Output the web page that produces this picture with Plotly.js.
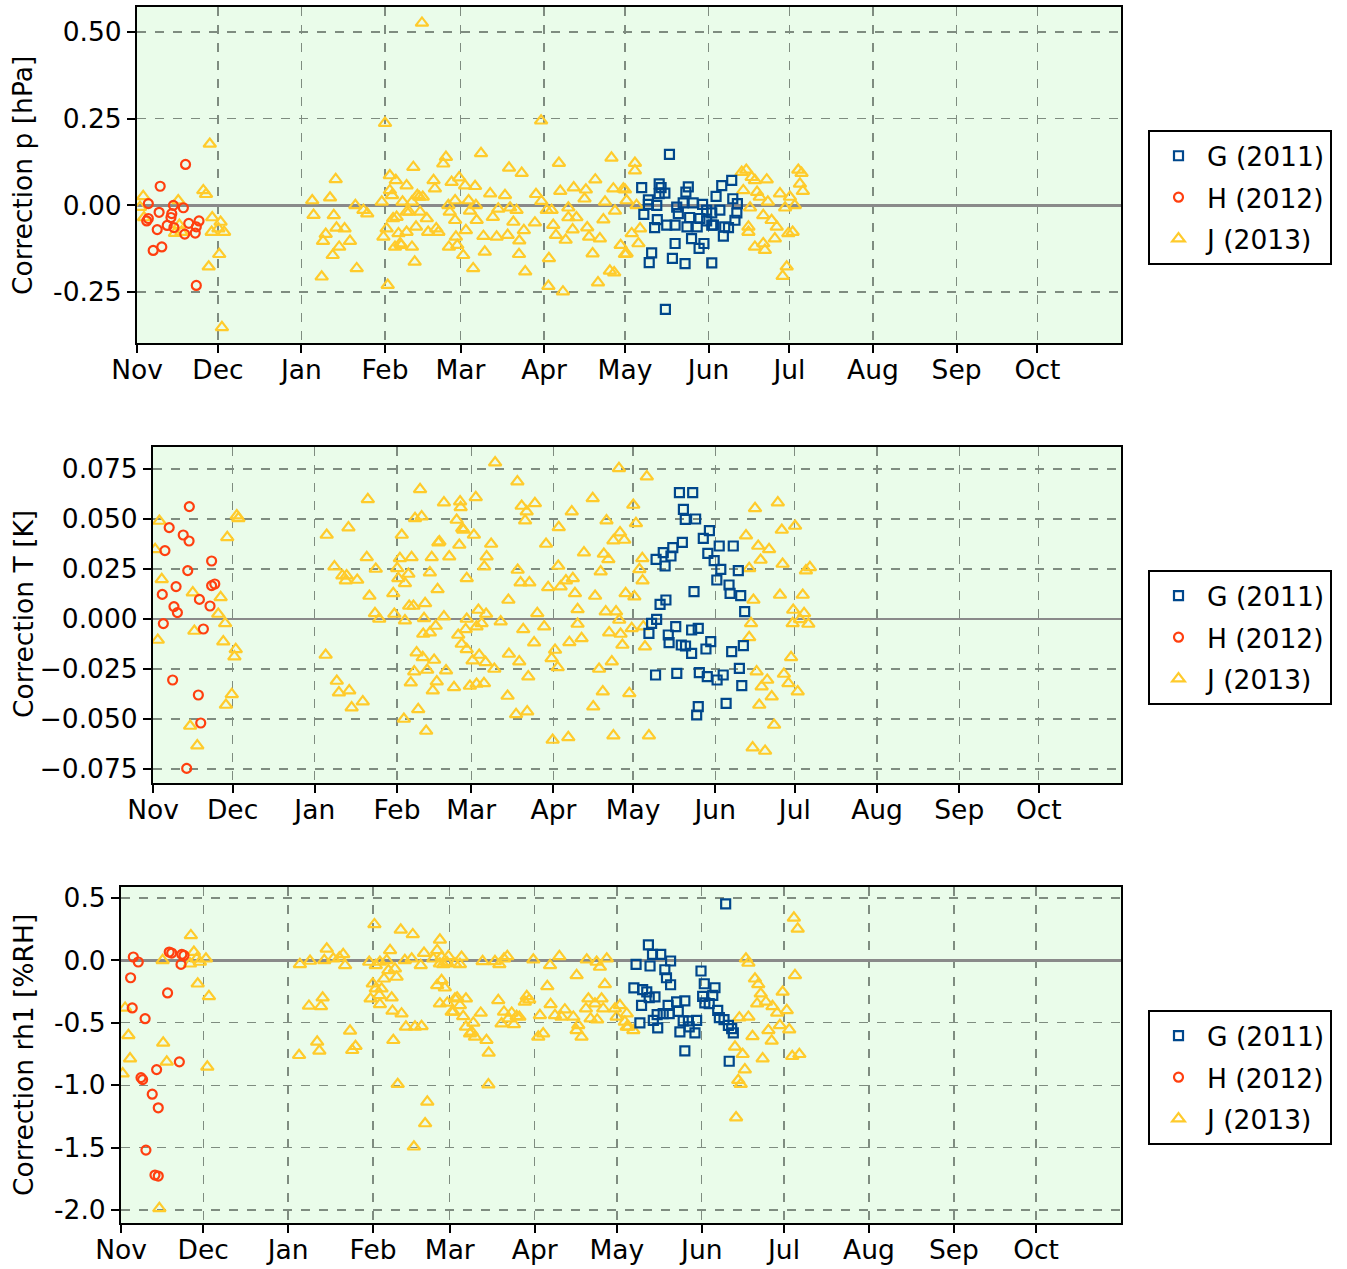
<!DOCTYPE html>
<html>
<head>
<meta charset="utf-8">
<script src="https://cdn.plot.ly/plotly-3.0.1.min.js"></script>
<style>html,body{margin:0;padding:0;background:#fff;}</style>
</head>
<body>
<div id="chart" style="width:1347px;height:1269px;"></div>
<script>
// x values: days since 1 November; y values: correction
const monthTickDays = [0,30,61,92,120,151,181,212,242,273,304,334];
const monthTickText = ['Nov','Dec','Jan','Feb','Mar','Apr','May','Jun','Jul','Aug','Sep','Oct'];

const seriesNames = ['G (2011)','H (2012)','J (2013)'];

// ---- Pressure correction [hPa]
const pressureG = [[197.5,0.147],[187.2,0.051],[193.7,0.062],[194.4,0.051],[195.8,0.035],[193.7,0.034],[189.7,0.016],[189.7,0.003],[192.8,0],[188,-0.026],[193,-0.041],[192,-0.064],[196.5,-0.057],[199.6,-0.057],[200.2,-0.005],[200.8,-0.024],[203.6,0.038],[204.5,0.053],[202.6,0.007],[206.3,0.007],[209.8,0.003],[205,-0.035],[208.8,-0.038],[204,-0.062],[207.8,-0.062],[205.7,-0.096],[210.3,-0.11],[208.5,-0.124],[199.6,-0.11],[190.9,-0.137],[190,-0.165],[198.6,-0.153],[203.3,-0.168],[213.2,-0.166],[196,-0.3],[211.3,-0.014],[213.2,-0.022],[214.8,0.026],[216.9,0.057],[220.6,0.072],[216.2,-0.014],[213.2,-0.057],[217.5,-0.089],[218,-0.062],[221,0.019],[222.7,0.005],[222.5,-0.022],[221.8,-0.043],[219.4,-0.064],[211.3,-0.045],[213.8,-0.057]];
const pressureH = [[18,0.118],[8.6,0.055],[4.2,0.005],[8.2,-0.02],[13.5,0],[17.2,-0.007],[12.9,-0.024],[12.6,-0.035],[4.2,-0.038],[3.6,-0.045],[11.2,-0.058],[13.7,-0.064],[19.2,-0.052],[23,-0.045],[22,-0.062],[7.5,-0.07],[17.7,-0.083],[21.6,-0.08],[9.2,-0.12],[6,-0.13],[22,-0.231]];
const pressureJ = [[2.3,0.026],[1.1,-0.005],[2.6,-0.035],[15.3,0.014],[15.7,-0.057],[14.1,-0.08],[16.5,-0.077],[27,0.177],[24.6,0.043],[25.6,0.032],[27.9,-0.035],[31,-0.048],[27.7,-0.077],[30.2,-0.067],[32.3,-0.077],[30.5,-0.141],[26.6,-0.177],[31.5,-0.352],
[65,0.014],[71.6,0.022],[73.7,0.075],[65.5,-0.028],[73,-0.029],[74,-0.065],[77,-0.067],[70,-0.083],[69,-0.103],[75,-0.12],[72.6,-0.144],[79,-0.103],[81,0],[84,-0.014],[85.4,-0.024],[81.5,-0.182],[68.5,-0.206],
[92,0.237],[102.5,0.11],[93.8,0.086],[96,0.072],[100,0.057],[93.8,0.043],[94.6,0.029],[90.8,0.01],[98.5,0.01],[102,0.01],[104.7,0.024],[106,0.024],[100,-0.019],[95,-0.038],[96.3,-0.034],[92.6,-0.067],[97,-0.081],[103.5,-0.062],[100,-0.077],[91.4,-0.091],[97.6,-0.11],[95.7,-0.12],[102,-0.12],[103,-0.163],[93,-0.23],[104,0.029],[101,-0.019],[105,-0.019],[107.5,-0.038],[98,-0.115],[105.7,0.526],
[114.6,0.139],[113.6,0.12],[127.6,0.15],[110,0.072],[110.5,0.048],[116.7,0.067],[119.5,0.08],[121.7,0.057],[125.4,0.055],[131,0.034],[136.5,0.029],[138,0.108],[142.7,0.093],[148,0.032],[150,0.012],[156.5,0.122],[157,0.041],[162,0.051],[166.5,0.045],[170,0.074],[176,0.137],[176.7,0.048],[181,0.045],[166,0.019],[173.6,0.01],[115.5,0],[118,0.014],[123,0.014],[125.7,0],[116,-0.019],[123.5,-0.016],[134,-0.01],[138.4,-0.007],[140.8,-0.014],[132,-0.034],[139.6,-0.048],[147.6,-0.05],[152,-0.014],[153.8,-0.014],[160,-0.007],[160,-0.035],[163,-0.035],[173,-0.041],[177.3,-0.016],[126,-0.043],[118,-0.043],[122,-0.072],[128.5,-0.089],[133.4,-0.091],[137.5,-0.086],[143.5,-0.072],[141.8,-0.102],[154.4,-0.057],[155.4,-0.086],[159,-0.1],[161.6,-0.07],[167,-0.064],[167.7,-0.091],[171.7,-0.096],[118.3,-0.091],[115.7,-0.12],[118.8,-0.115],[121,-0.144],[129,-0.134],[124.7,-0.182],[141.7,-0.141],[144,-0.191],[152.8,-0.153],[169,-0.139],[152.6,-0.233],[158,-0.249],[171,-0.223],[175.4,-0.189],[177,-0.194],[179.4,-0.115],[181,-0.141],[111,-0.067],[111.8,-0.077],[108,-0.077],[149.9,0.244],
[184.7,0.122],[184.7,0.1],[180.4,0.048],[181.6,0.014],[185.3,0],[183.5,-0.081],[186.6,-0.067],[186,-0.11],[181.6,-0.139],
[224.3,0.096],[226,0.102],[228,0.081],[229.2,0.072],[233.6,0.074],[224.9,0.043],[230,0.038],[231,0.024],[234,0.01],[238.5,0.034],[245.3,0.102],[246.5,0.093],[245.9,0.062],[247,0.041],[242.2,0.024],[244,0],[240.4,-0.007],[227.4,-0.007],[232.3,-0.029],[235.4,-0.043],[237.3,-0.062],[236.6,-0.096],[226.8,-0.062],[226.8,-0.077],[229.2,-0.12],[232.3,-0.11],[232.9,-0.129],[241.6,-0.081],[243.2,-0.077],[241,-0.177],[239.5,-0.204]];

// ---- Temperature correction [K]
const tempG = [[198.5,0.0632],[203.5,0.0632],[200,0.0548],[200.7,0.0498],[204.6,0.05],[209.8,0.0442],[207.5,0.0403],[213.5,0.0365],[218.8,0.0365],[199.6,0.0383],[196,0.0357],[192.4,0.0332],[195.3,0.0315],[189.7,0.0298],[193.1,0.0265],[209.2,0.0328],[211.6,0.0292],[214.1,0.0248],[220.7,0.0242],[212.6,0.0195],[217.2,0.017],[217.6,0.0128],[221.6,0.0117],[204,0.0137],[193.4,0.0095],[191.2,0.0073],[223.1,0.0037],[189.9,-0.0002],[188,-0.0022],[187,-0.0072],[197.1,-0.0038],[203.1,-0.0055],[205.6,-0.0047],[194.3,-0.008],[194.6,-0.0118],[199.2,-0.013],[200.8,-0.0135],[203.1,-0.0172],[208.5,-0.015],[210.3,-0.0113],[218.2,-0.0163],[222.6,-0.0133],[221.1,-0.0247],[189.5,-0.028],[197.5,-0.0272],[206,-0.0268],[209,-0.0288],[212.7,-0.0305],[215,-0.028],[222,-0.0333],[216.1,-0.0422],[205.6,-0.0438],[205,-0.048]];
const tempH = [[13.7,0.0562],[6.1,0.0457],[11.4,0.042],[13.6,0.039],[4.5,0.0342],[22.1,0.029],[13.1,0.0242],[8.7,0.0162],[22.1,0.0167],[23.3,0.0175],[3.5,0.0123],[17.5,0.0098],[7.9,0.0062],[21.5,0.0065],[9.2,0.0032],[3.9,-0.0023],[19,-0.005],[7.4,-0.0305],[17.1,-0.038],[18,-0.052],[12.7,-0.0747]];
const tempJ = [[2.4,0.049],[0.8,0.0348],[3.3,0.0198],[15,0.0132],[25.5,0.0108],[24.6,0.0025],[27.2,-0.0022],[15.6,-0.006],[1.8,-0.0105],[26.5,-0.0113],[31.2,-0.0152],[30.7,-0.0188],[28,0.0408],[31.6,0.0517],[32.2,0.0503],[29.7,-0.0377],[27.5,-0.043],[14,-0.0535],[16.7,-0.0633],
[65.5,0.042],[73.7,0.0457],[81,0.0598],[68.4,0.0262],[71.4,0.0217],[73,0.0217],[72.7,0.0192],[77,0.0195],[80.6,0.0308],[84,0.025],[81.6,0.0115],[83.7,0.0028],[85.3,0],[65.1,-0.018],[69.3,-0.031],[70.1,-0.0368],[74,-0.0358],[79.1,-0.0413],[74.9,-0.0443],[90.6,0.0128],[91,0.0025],[93.8,0.042],[93.1,0.0303],[92.1,0.0253],[96.3,0.0225],[92.5,0.0203],[95,0.0178],[97.5,0.0308],[100.7,0.0648],[98.8,0.0503],[101.3,0.0512],[105.1,0.0308],[104.4,0.0232],[107.6,0.0382],[107.3,0.0148],[96.6,0.0065],[98.2,0.0065],[102.6,0.0078],[95,-0.0008],[102.2,0.0003],[106.6,-0.0035],[101.9,-0.0075],[104.4,-0.0068],[99.4,-0.0168],[101.7,-0.0192],[106,-0.0205],[98.5,-0.0263],[103.4,-0.0255],[97.2,-0.0318],[107,-0.0313],[105.5,-0.0358],[100,-0.0452],[94.6,-0.05],[103,-0.056],
[129,0.0782],[137.4,0.0687],[109.7,0.0582],[115.8,0.0587],[116,0.0558],[121.7,0.0608],[114.5,0.0495],[116.6,0.0453],[117,0.0445],[121,0.042],[108,0.0387],[115.5,0.037],[127.5,0.0375],[125.8,0.0312],[124.9,0.0262],[111.7,0.0312],[118.3,0.0203],[134,0.0095],[139,0.0565],[140.9,0.0537],[140.3,0.0492],[144,0.0578],[137.5,0.0245],[138.6,0.0182],[141.9,0.0182],[149,0.0158],[148.2,0.0375],[152.8,0.0265],[153,0.0458],[157.9,0.0537],[153.7,0.0162],[155.7,0.0192],[158.3,0.0203],[159.1,0.0128],[160.1,0.0048],[162.5,0.0332],[165.8,0.0603],[166.7,0.0115],[170.7,0.0037],[174.6,0.0037],[175.8,-0.0005],[171,0.0492],[175.7,0.0753],[173.6,0.0392],[176.1,0.0432],[177.7,0.0395],[181.1,0.057],[182.1,0.0478],[170,0.0325],[171.7,0.0298],[168.8,0.0237],[178.2,0.0128],[181.5,0.0112],[184.5,0.0303],[183.4,0.0248],[184.6,0.0192],[186.2,0.0712],[180.5,-0.0047],[172,-0.0068],[176.3,-0.0075],[177,-0.013],[185.5,-0.0138],[184.9,-0.0038],[173,-0.0213],[168.2,-0.025],[169.6,-0.0363],[179.6,-0.0372],[166,-0.0438],[173.6,-0.0583],[187,-0.0583],[150.7,-0.0605],[156.6,-0.0592],[133.7,-0.0385],[136.9,-0.0477],[141.1,-0.0463],[141.5,-0.0288],[138.1,-0.0213],[134.2,-0.0175],[128.7,-0.025],[124.8,-0.0322],[122,-0.0325],[119.5,-0.0335],[125.4,-0.0217],[123,-0.018],[120.5,-0.0208],[118.3,-0.0152],[116.4,-0.0125],[115.1,-0.008],[117.9,-0.0052],[122,-0.0038],[123.9,-0.0022],[122.7,0.0045],[125.6,0.0025],[118.3,0],[109.7,0.0012],[110.5,-0.0258],[113.5,-0.0342],[131.1,-0.0013],[139.6,-0.0052],[143.7,-0.0118],[144.9,0.0028],[147.5,-0.0038],[151.6,-0.0155],[152.6,-0.0242],[150.3,-0.0197],[157,-0.0117],[160.1,-0.0025],[161.6,-0.0097],
[227,0.0553],[235.6,0.0582],[237.1,0.0445],[242.1,0.0465],[223.6,0.0417],[228.2,0.0365],[232.3,0.0348],[229.1,0.0295],[237.4,0.0275],[224.8,0.0253],[246.2,0.0242],[247.7,0.0258],[236.4,0.012],[245,0.012],[226.4,0.0095],[241.4,0.0045],[245.5,0.0028],[241.2,-0.0022],[244,-0.0002],[247.1,-0.0025],[225.5,-0.0022],[224.8,-0.0092],[240.6,-0.0192],[227.6,-0.0263],[231.6,-0.0305],[229.5,-0.0338],[237.9,-0.0275],[239.6,-0.0322],[243.1,-0.0363],[233.3,-0.0388],[228.6,-0.043],[234.2,-0.053],[226.1,-0.0643],[230.8,-0.066]];

// ---- Humidity correction [%RH]
const humidG = [[220.7,0.453],[192.5,0.125],[194,0.048],[197,0.048],[188,-0.032],[193.1,-0.045],[200.6,-0.005],[198.5,-0.075],[199.1,-0.139],[200.6,-0.195],[187.2,-0.221],[190.4,-0.235],[191.9,-0.253],[192.8,-0.299],[194.9,-0.293],[190,-0.36],[189.4,-0.501],[194.3,-0.48],[195.9,-0.541],[195.7,-0.435],[197.9,-0.427],[200.1,-0.427],[199.7,-0.36],[202.8,-0.333],[205.8,-0.325],[203.4,-0.408],[205.2,-0.485],[207.1,-0.485],[210.1,-0.48],[204,-0.573],[209.5,-0.581],[205.8,-0.725],[211.7,-0.085],[212.9,-0.187],[212.3,-0.288],[213.1,-0.341],[216.8,-0.219],[216,-0.28],[214.7,-0.347],[217.8,-0.4],[218.4,-0.459],[220.1,-0.475],[221.7,-0.52],[222.9,-0.547],[223.5,-0.581],[222,-0.808],[207.4,-0.533]];
const humidH = [[4.5,0.027],[6.3,-0.013],[3.5,-0.139],[4.1,-0.381],[8.8,-0.467],[17,-0.261],[17.6,0.067],[18.5,0.059],[22.2,0.048],[23,0.04],[21.9,-0.032],[21.3,-0.813],[13,-0.875],[7.3,-0.939],[7.9,-0.955],[11.4,-1.072],[13.6,-1.181],[9.1,-1.52],[12.4,-1.72],[13.6,-1.728]];
const humidJ = [[1.5,-0.381],[2.7,-0.6],[3.3,-0.787],[0.6,-0.907],[15.2,0],[15.4,-0.661],[16.7,-0.813],[14,-1.987],[25.5,0.2],[26.6,0.067],[27.6,0.013],[25.2,-0.027],[28.8,-0.013],[31,0.013],[28,-0.187],[32.1,-0.288],[31.5,-0.853],
[65.3,-0.032],[69,-0.005],[74.2,0],[75.1,0.093],[77.5,0.013],[79.7,0.021],[81.1,0.048],[81.8,-0.04],[68.6,-0.365],[73,-0.368],[73.6,-0.299],[65,-0.76],[71.6,-0.653],[72.4,-0.725],[83.6,-0.565],[84.4,-0.72],[85.6,-0.688],[92.5,0.288],[90.6,-0.013],[93,-0.04],[94.5,-0.013],[97,0],[98.2,0.08],[91.9,-0.187],[93,-0.227],[91.1,-0.307],[95.1,-0.227],[94.3,-0.28],[96,-0.147],[97.6,-0.08],[100,-0.067],[100.6,-0.133],[94.5,-0.352],[98.8,-0.299],[99.1,-0.405],[102.4,-0.427],[102.1,0.245],[106.5,0.208],[103.6,0],[106.1,0.013],[109.4,-0.04],[110.6,0.059],[104,-0.533],[107.3,-0.533],[109.7,-0.528],[99.4,-0.64],[101,-0.992],[111.8,-1.133],[111,-1.307],[106.9,-1.493],
[116.4,0.165],[115.4,0.08],[114,0.013],[117,0.027],[119.5,0.032],[117.6,-0.032],[121.9,-0.027],[124.3,0.027],[123.7,-0.032],[117,-0.16],[115.4,-0.2],[118.2,-0.219],[116.4,-0.347],[119.1,-0.341],[122.7,-0.299],[125.9,-0.307],[120.7,-0.413],[123.7,-0.36],[124.9,-0.448],[128.6,-0.501],[125.9,-0.533],[127.4,-0.587],[129.2,-0.613],[131.3,-0.421],[133.4,-0.64],[134.2,-0.741],[134.1,-0.995],[132,-0.008],[136.5,-0.008],[138.1,-0.032],[139.8,0.013],[141,0.032],[137.7,-0.32],[139.8,-0.413],[142.6,-0.421],[144.4,-0.448],[138.9,-0.507],[141.4,-0.467],[143.4,-0.512],[145.4,-0.453],[148.1,-0.288],[147.4,-0.333],[149,-0.315],[150.5,0.005],[152.9,-0.44],[152.3,-0.613],[154.1,-0.587],[156.6,-0.04],[160,0.032],[155.6,-0.208],[156.8,-0.352],[158.4,-0.44],[160.8,-0.453],[162,-0.395],[165.1,-0.453],[166.9,-0.52],[166.3,-0.56],[168.1,-0.613],[166.3,-0.12],[170,0.005],[173.6,-0.013],[174.8,-0.053],[177.3,0.013],[176.6,-0.192],[170.6,-0.307],[173,-0.347],[175.4,-0.307],[169.7,-0.387],[171.4,-0.467],[173.8,-0.475],[176,-0.387],[180.3,-0.387],[182.1,-0.36],[180.9,-0.453],[183.9,-0.493],[184.6,-0.533],[116.4,-0.027],[119,-0.016],[121.9,-0.307],[121.3,-0.413],[128,-0.573],[184.6,-0.427],[185.2,-0.533],[187,-0.56],
[228.1,0.013],[229,-0.021],[231.4,-0.147],[232.6,-0.192],[233.5,-0.267],[232.2,-0.347],[235.4,-0.333],[237.8,-0.368],[239.5,-0.421],[241.5,-0.253],[246,-0.12],[245.6,0.341],[247,0.253],[243,-0.4],[240.5,-0.52],[243.9,-0.555],[236.3,-0.56],[237.5,-0.645],[230.5,-0.608],[234.2,-0.787],[245,-0.768],[247.6,-0.752],[229,-0.453],[225.7,-0.459],[224.1,-0.693],[226.9,-0.752],[227.7,-0.875],[225.3,-0.96],[226.2,-0.992],[224.5,-1.259]];

const yTicksP = [-0.25,0,0.25,0.5], yTextP = ['-0.25','0.00','0.25','0.50'];
const yTicksT = [-0.075,-0.05,-0.025,0,0.025,0.05,0.075], yTextT = ['\u22120.075','\u22120.050','\u22120.025','0.000','0.025','0.050','0.075'];
const yTicksR = [-2,-1.5,-1,-0.5,0,0.5], yTextR = ['-2.0','-1.5','-1.0','-0.5','0.0','0.5'];

const colG = '#00478c', colH = '#ff3f0f', colJ = '#ffcb2b';
const FONT = 'DejaVu Sans, sans-serif';
const FS = 26.5;
const W = 1347, H = 1269;

function mk(data, name, axis, legend, sym, color, size, group, rank) {
  return {
    type: 'scatter', mode: 'markers',
    x: data.map(d => d[0]), y: data.map(d => d[1]),
    name: name, xaxis: 'x' + axis, yaxis: 'y' + axis,
    legend: legend, legendgroup: group, legendrank: rank,
    marker: {symbol: sym, color: color, size: size, line: {color: color, width: 2.2}},
    hoverinfo: 'x+y'
  };
}

const traces = [];
const panels = [
  {ax: '', lg: 'legend', G: pressureG, Hs: pressureH, J: pressureJ},
  {ax: '2', lg: 'legend2', G: tempG, Hs: tempH, J: tempJ},
  {ax: '3', lg: 'legend3', G: humidG, Hs: humidH, J: humidJ}
];
panels.forEach((p, i) => {
  traces.push(mk(p.J, seriesNames[2], p.ax, p.lg, 'triangle-up-open', colJ, 11, 'J' + i, 3));
  traces.push(mk(p.Hs, seriesNames[1], p.ax, p.lg, 'circle-open', colH, 9, 'H' + i, 2));
  traces.push(mk(p.G, seriesNames[0], p.ax, p.lg, 'square-open', colG, 9, 'G' + i, 1));
});

function xax(left, right, anchor) {
  return {
    domain: [left / W, right / W], anchor: anchor, range: [0, 365],
    tickvals: monthTickDays, ticktext: monthTickText,
    showline: true, linecolor: '#000', linewidth: 2, mirror: true,
    ticks: 'outside', ticklen: 8, tickwidth: 2, tickcolor: '#000',
    showgrid: true, gridcolor: '#7f8c80', griddash: 'dash', gridwidth: 1.3,
    zeroline: false, automargin: false, ticklabelstandoff: -6,
    tickfont: {family: FONT, size: FS, color: '#000'}
  };
}
function yax(top, bottom, anchor, range, tv, tt) {
  return {
    domain: [1 - bottom / H, 1 - top / H], anchor: anchor, range: range,
    tickvals: tv, ticktext: tt,
    showline: true, linecolor: '#000', linewidth: 2, mirror: true,
    ticks: 'outside', ticklen: 8, tickwidth: 2, tickcolor: '#000',
    showgrid: true, gridcolor: '#7f8c80', griddash: 'dash', gridwidth: 1.3,
    zeroline: true, zerolinecolor: '#8a8a8a', zerolinewidth: 2.5,
    automargin: false,
    tickfont: {family: FONT, size: FS, color: '#000'}
  };
}
function leg(topPx) {
  return {
    x: 1148 / W, xanchor: 'left', y: 1 - topPx / H, yanchor: 'top',
    bgcolor: '#ffffff', bordercolor: '#000', borderwidth: 2,
    font: {family: FONT, size: FS, color: '#000'},
    traceorder: 'grouped', tracegroupgap: 4, itemwidth: 47
  };
}

const layout = {
  width: W, height: H,
  margin: {l: 0, r: 0, t: 0, b: 0},
  paper_bgcolor: '#ffffff', plot_bgcolor: '#eafcea',
  font: {family: FONT, size: FS, color: '#000'},
  showlegend: true,
  xaxis: xax(137, 1121, 'y'),
  yaxis: yax(7, 343, 'x', [-0.397, 0.572], yTicksP, yTextP),
  xaxis2: xax(153, 1121, 'y2'),
  yaxis2: yax(447, 783, 'x2', [-0.082, 0.086], yTicksT, yTextT),
  xaxis3: xax(121, 1121, 'y3'),
  yaxis3: yax(887, 1223, 'x3', [-2.104, 0.588], yTicksR, yTextR),
  legend: leg(130), legend2: leg(570), legend3: leg(1010),
  annotations: [
    {text: 'Correction p [hPa]', x: 23 / W, y: 1 - 176 / H},
    {text: 'Correction T [K]', x: 23 / W, y: 1 - 614 / H},
    {text: 'Correction rh1 [%RH]', x: 23 / W, y: 1 - 1055 / H}
  ].map(a => Object.assign(a, {xref: 'paper', yref: 'paper', showarrow: false, textangle: -90,
      xanchor: 'center', yanchor: 'middle', font: {family: FONT, size: FS, color: '#000'}}))
};

Plotly.newPlot('chart', traces, layout, {displayModeBar: false, staticPlot: true});
</script>
</body>
</html>
